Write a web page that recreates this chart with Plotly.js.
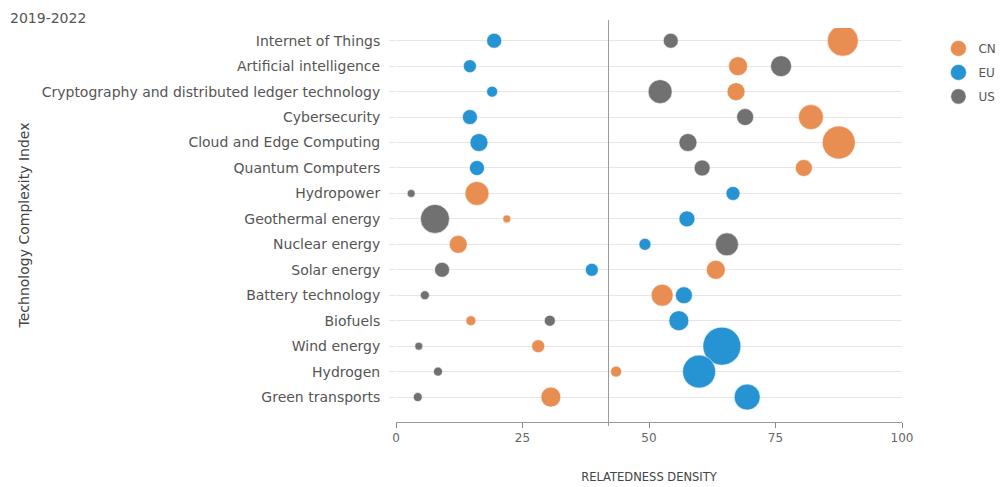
<!DOCTYPE html>
<html>
<head>
<meta charset="utf-8">
<script src="https://cdn.plot.ly/plotly-3.0.1.min.js"></script>
<style>
  html, body { margin: 0; padding: 0; background: #fff; }
  #chart { width: 1007px; height: 487px; }
</style>
</head>
<body>
<div id="chart"></div>
<script>
// Categories (top to bottom)
const technologies = [
  "Internet of Things",
  "Artificial intelligence",
  "Cryptography and distributed ledger technology",
  "Cybersecurity",
  "Cloud and Edge Computing",
  "Quantum Computers",
  "Hydropower",
  "Geothermal energy",
  "Nuclear energy",
  "Solar energy",
  "Battery technology",
  "Biofuels",
  "Wind energy",
  "Hydrogen",
  "Green transports"
];

// Relatedness density per region
const cnDensity = [88.3, 67.6, 67.2, 82.0, 87.5, 80.6, 16.0, 21.9, 12.3, 63.2, 52.6, 14.8, 28.1, 43.5, 30.6];
const euDensity = [19.4, 14.6, 19.0, 14.6, 16.4, 16.0, 66.6, 57.5, 49.2, 38.7, 56.9, 55.9, 64.4, 59.9, 69.4];
const usDensity = [54.3, 76.1, 52.2, 69.0, 57.7, 60.5, 3.0, 7.7, 65.4, 9.1, 5.7, 30.4, 4.5, 8.3, 4.3];

// Bubble weights (relative size of each bubble)
const cnWeight = [31, 19, 18, 25, 33, 17, 24, 8, 18, 19, 22, 10, 13, 11, 20];
const euWeight = [15, 13, 11, 15, 18, 15, 14, 16, 12, 13, 17, 20, 38, 33, 26];
const usWeight = [15, 21, 24, 17, 18, 16, 8, 29, 23, 15, 9, 11, 8, 9, 9];

const regions = ["CN", "EU", "US"];
const yearsLabel = "2019-2022";
const thresholdValue = 42;

const colors = { CN: "#E8894A", EU: "#1B8ED0", US: "#6A6A6A" };
const densities = { CN: cnDensity, EU: euDensity, US: usDensity };
const weights = { CN: cnWeight, EU: euWeight, US: usWeight };

const traces = regions.map(r => ({
  type: "scatter",
  mode: "markers",
  name: r,
  legendgroup: r,
  x: densities[r],
  y: technologies,
  marker: {
    color: colors[r],
    size: weights[r],
    sizemode: "diameter",
    sizeref: 1,
    opacity: 0.95,
    line: { color: "rgba(255,255,255,0.6)", width: 1 }
  },
  hoverinfo: "x+y+name"
}));

const font = "'DejaVu Sans', 'Open Sans', sans-serif";

const layout = {
  width: 1007,
  height: 487,
  paper_bgcolor: "#ffffff",
  plot_bgcolor: "#ffffff",
  margin: { l: 396, r: 105, t: 28, b: 65, pad: 0, autoexpand: false },
  font: { family: font, size: 12, color: "#555" },
  showlegend: true,
  legend: {
    x: 1.072, xanchor: "left",
    y: 0.985, yanchor: "top",
    traceorder: "grouped",
    tracegroupgap: 5,
    font: { size: 12, color: "#555" },
    itemsizing: "trace",
    bgcolor: "rgba(0,0,0,0)"
  },
  xaxis: {
    range: [0, 100],
    tickvals: [0, 25, 50, 75, 100],
    ticks: "outside",
    ticklen: 5,
    tickcolor: "#888",
    showline: true,
    linecolor: "#999",
    linewidth: 1,
    showgrid: false,
    zeroline: false,
    tickfont: { size: 12, color: "#666" },
    title: { text: "RELATEDNESS DENSITY", font: { size: 11.5, color: "#444" }, standoff: 28 }
  },
  yaxis: {
    type: "category",
    categoryorder: "array",
    categoryarray: technologies,
    range: [14.98, -0.5],
    showgrid: true,
    gridcolor: "#e6e6e6",
    gridwidth: 1,
    ticks: "outside",
    ticklen: 6,
    tickcolor: "#e6e6e6",
    ticklabelstandoff: 6,
    showline: false,
    zeroline: false,
    tickfont: { size: 14, color: "#555" },
    title: { text: "Technology Complexity Index", font: { size: 14, color: "#444" }, standoff: 8 }
  },
  shapes: [{
    type: "line",
    xref: "x", yref: "paper",
    x0: thresholdValue, x1: thresholdValue,
    y0: -0.01, y1: 1.02,
    line: { color: "#9a9a9a", width: 1 }
  }],
  annotations: [{
    text: yearsLabel,
    xref: "paper", yref: "paper",
    x: -0.767, y: 1.025,
    xanchor: "left", yanchor: "middle",
    showarrow: false,
    font: { size: 14, color: "#555" }
  }]
};

Plotly.newPlot("chart", traces, layout, { displayModeBar: false, staticPlot: true });
</script>
</body>
</html>
